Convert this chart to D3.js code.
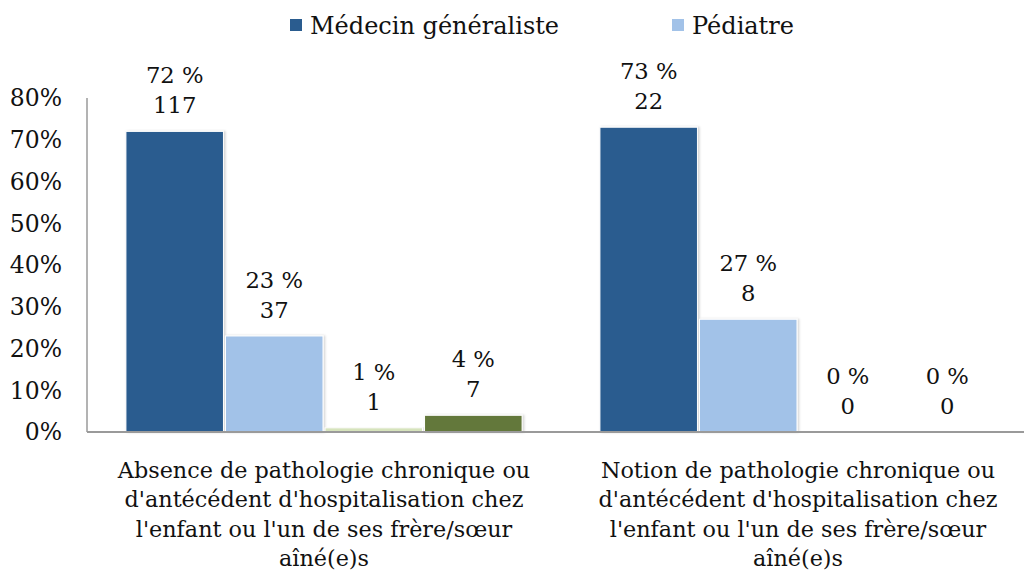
<!DOCTYPE html>
<html>
<head>
<meta charset="utf-8">
<script src="https://cdn.jsdelivr.net/npm/d3@7"></script>
<style>
  html, body { margin: 0; padding: 0; background: #fff; }
  svg { display: block; }
  text { font-family: "DejaVu Serif", "Liberation Serif", serif; fill: #111; }
</style>
</head>
<body>
<svg id="chart" width="1024" height="575"></svg>
<script>
// Categories (each label split into its display lines)
const categories = [
  ["Absence de pathologie chronique ou", "d'antécédent d'hospitalisation chez", "l'enfant ou l'un de ses frère/sœur", "aîné(e)s"],
  ["Notion de pathologie chronique ou", "d'antécédent d'hospitalisation chez", "l'enfant ou l'un de ses frère/sœur", "aîné(e)s"]
];
const seriesNames = ["Médecin généraliste", "Pédiatre", "Autre 1", "Autre 2"];
const legendNames = ["Médecin généraliste", "Pédiatre"];
// Percentages per series, one value per category
const pctMedecin = [72, 73];
const pctPediatre = [23, 27];
const pctAutre1 = [1, 0];
const pctAutre2 = [4, 0];
// Counts per series
const nMedecin = [117, 22];
const nPediatre = [37, 8];
const nAutre1 = [1, 0];
const nAutre2 = [7, 0];
const yTicks = [0, 10, 20, 30, 40, 50, 60, 70, 80];

const colors = ["#2a5c8f", "#a2c2e8", "#d6e3bc", "#63783a"];
const pctSeries = [pctMedecin, pctPediatre, pctAutre1, pctAutre2];
const nSeries = [nMedecin, nPediatre, nAutre1, nAutre2];

const svg = d3.select("#chart");
const margin = { left: 87, top: 98, bottom: 432 };
const plotWidth = 948;

const x0 = d3.scaleBand().domain(d3.range(categories.length))
  .range([margin.left, margin.left + plotWidth]).paddingInner(0.16).paddingOuter(0.08);
const x1 = d3.scaleBand().domain(d3.range(seriesNames.length))
  .range([0, x0.bandwidth()]).padding(0);
const y = d3.scaleLinear().domain([0, 80]).range([margin.bottom, margin.top]);

// soft shadow on the bars' right edge
const defs = svg.append("defs");
const f = defs.append("filter").attr("id", "shadow").attr("x", "-10%").attr("y", "-10%").attr("width", "130%").attr("height", "130%");
f.append("feDropShadow").attr("dx", 1.5).attr("dy", 0).attr("stdDeviation", 1.2)
  .attr("flood-color", "#000").attr("flood-opacity", 0.18);

// Y axis labels
svg.append("g").selectAll("text").data(yTicks).join("text")
  .attr("x", 62).attr("y", d => y(d)).attr("dy", "0.36em")
  .attr("text-anchor", "end").style("font-size", "23.5px")
  .text(d => d + "%");

// Bars
const rows = [];
categories.forEach((c, ci) => {
  pctSeries.forEach((s, si) => {
    rows.push({ ci, si, pct: s[ci], n: nSeries[si][ci] });
  });
});

const barW = x1.bandwidth();
svg.append("g").selectAll("rect").data(rows.filter(d => d.pct > 0)).join("rect")
  .attr("x", d => x0(d.ci) + x1(d.si) + 1)
  .attr("y", d => y(d.pct))
  .attr("width", barW - 2)
  .attr("height", d => y(0) - y(d.pct))
  .attr("fill", d => colors[d.si])
  .attr("stroke", "#fff").attr("stroke-width", 1)
  .attr("filter", "url(#shadow)");

// Axes lines
const axisColor = "#9a9a9a";
svg.append("line").attr("x1", margin.left).attr("x2", margin.left)
  .attr("y1", y(80)).attr("y2", y(0)).attr("stroke", axisColor).attr("stroke-width", 1.5);
svg.append("line").attr("x1", margin.left).attr("x2", margin.left + plotWidth)
  .attr("y1", y(0)).attr("y2", y(0)).attr("stroke", axisColor).attr("stroke-width", 2);

// Value labels
const lab = svg.append("g").selectAll("g").data(rows).join("g")
  .attr("transform", d => `translate(${x0(d.ci) + x1(d.si) + barW / 2},${y(d.pct)})`);
lab.append("text").attr("y", -48).attr("text-anchor", "middle").style("font-size", "22.7px")
  .text(d => d.pct + " %");
lab.append("text").attr("y", -18).attr("text-anchor", "middle").style("font-size", "22.7px")
  .text(d => d.n);

// Category labels
const cat = svg.append("g").selectAll("text").data(categories).join("text")
  .attr("text-anchor", "middle").style("font-size", "22.3px")
  .attr("transform", (d, i) => `translate(${x0(i) + x0.bandwidth() / 2},0)`);
cat.selectAll("tspan").data(d => d).join("tspan")
  .attr("x", 0).attr("y", (d, i) => 478 + i * 29.3).text(d => d);

// Legend
const legendX = [290, 672];
const lg = svg.append("g").selectAll("g").data(legendNames).join("g")
  .attr("transform", (d, i) => `translate(${legendX[i]},0)`);
lg.append("rect").attr("x", 0).attr("y", 19).attr("width", 12).attr("height", 12)
  .attr("fill", (d, i) => colors[i]);
lg.append("text").attr("x", 20).attr("y", 34).style("font-size", "24px").text(d => d);
</script>
</body>
</html>
